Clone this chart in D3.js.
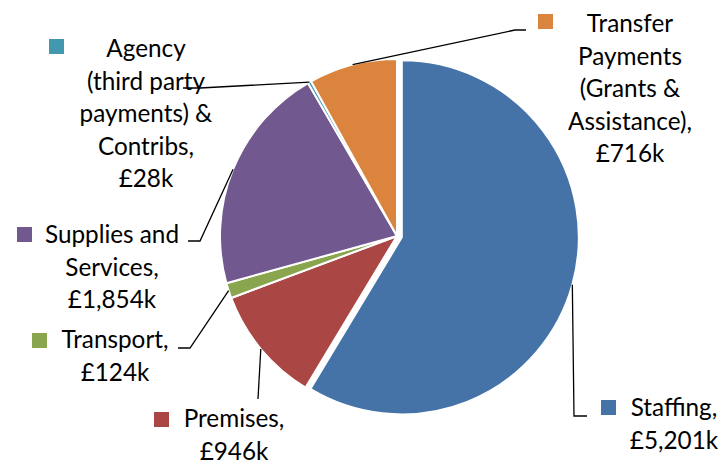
<!DOCTYPE html>
<html>
<head>
<meta charset="utf-8">
<script src="https://cdn.jsdelivr.net/npm/d3@7"></script>
<style>
  body { margin: 0; background: #fff; }
  text { font-family: "Lato", "Liberation Sans", sans-serif; font-size: 24.3px; fill: #000; }
</style>
</head>
<body>
<div id="chart"></div>
<script>
// Spend by category (£k)
const categories = ["Staffing", "Premises", "Transport", "Supplies and Services",
                    "Agency (third party payments) & Contribs", "Transfer Payments (Grants & Assistance)"];
const values = [5201, 946, 124, 1854, 28, 716];
const colors = ["#4572A7", "#AA4643", "#89A54E", "#71588F", "#4198AF", "#DB843D"];
// label text split over lines, value line is added below
const nameLines = [
    ["Staffing,"],
    ["Premises,"],
    ["Transport,"],
    ["Supplies and", "Services,"],
    ["Agency", "(third party", "payments) &", "Contribs,"],
    ["Transfer", "Payments", "(Grants &", "Assistance),"]
];

const width = 721, height = 463;
const cx = 397, cy = 236, radius = 177;
const explode = 5; // Staffing pulled out a little

// label layout: key square, text centre, first baseline, leader elbows
const layout = [
    { key: [601, 400], tx: 674, ty: 416, elbows: [[574, 416], [587, 416]] },
    { key: [154, 412], tx: 234, ty: 427, elbows: [[258, 399]] },
    { key: [32, 333], tx: 115, ty: 348, elbows: [[190, 348], [178, 348]] },
    { key: [17, 227], tx: 112, ty: 243, elbows: [[200, 241], [188, 241]] },
    { key: [49, 39], tx: 146, ty: 57, elbows: [[200, 88], [183, 88]] },
    { key: [538, 14], tx: 630, ty: 32, elbows: [[515, 30], [526, 30]] }
];
const lineHeight = 32.5;

const svg = d3.select("#chart").append("svg")
    .attr("width", width)
    .attr("height", height);

const pie = d3.pie().sort(null).value(d => d)
    .startAngle(0).endAngle(2 * Math.PI);
const arcs = pie(values);

const arc = d3.arc().innerRadius(0).outerRadius(radius);

const g = svg.append("g").attr("transform", `translate(${cx},${cy})`);

function offset(d, i) {
    if (i !== 0) return [0, 0];
    const mid = (d.startAngle + d.endAngle) / 2;
    return [Math.sin(mid) * explode, -Math.cos(mid) * explode];
}

g.selectAll("path")
    .data(arcs)
    .join("path")
        .attr("d", arc)
        .attr("fill", (d, i) => colors[i])
        .attr("stroke", "#fff")
        .attr("stroke-width", 2)
        .attr("stroke-linejoin", "round")
        .attr("transform", (d, i) => `translate(${offset(d, i)})`);

// Leader lines, starting at the outer edge of each slice
arcs.forEach((d, i) => {
    const mid = (d.startAngle + d.endAngle) / 2;
    const o = offset(d, i);
    const start = [cx + o[0] + Math.sin(mid) * radius, cy + o[1] - Math.cos(mid) * radius];
    const pts = [start].concat(layout[i].elbows);
    svg.append("path")
        .attr("d", d3.line()(pts))
        .attr("fill", "none")
        .attr("stroke", "#000")
        .attr("stroke-width", 1.3);
});

// Labels with legend keys
categories.forEach((c, i) => {
    const l = layout[i];
    svg.append("rect")
        .attr("x", l.key[0]).attr("y", l.key[1])
        .attr("width", 15).attr("height", 15)
        .attr("fill", colors[i]);
    const lines = nameLines[i].concat(["£" + d3.format(",")(values[i]) + "k"]);
    const t = svg.append("text").attr("text-anchor", "middle");
    lines.forEach((s, j) => {
        t.append("tspan")
            .attr("x", l.tx)
            .attr("y", l.ty + j * lineHeight)
            .text(s);
    });
});
</script>
</body>
</html>
